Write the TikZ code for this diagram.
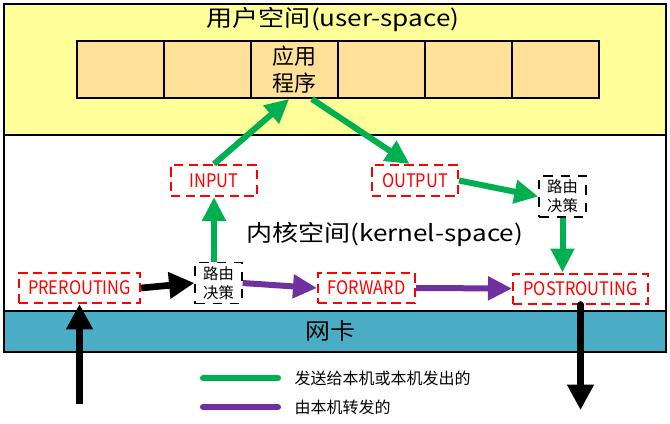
\documentclass[tikz,border=0pt]{standalone}
\usepackage{fontspec}
\usepackage{graphicx}
\setmainfont{Noto Sans CJK SC}
\usetikzlibrary{arrows.meta}
\definecolor{userbg}{RGB}{255,255,153}
\definecolor{appbg}{RGB}{255,224,153}
\definecolor{nicbg}{RGB}{75,172,198}
\definecolor{localgreen}{RGB}{0,176,80}
\definecolor{fwdpurple}{RGB}{112,48,160}
\newcommand{\hsc}[2]{\scalebox{#1}[1]{#2}}
\begin{document}
\begin{tikzpicture}[x=0.75pt,y=-0.75pt,
    hook/.style={draw=red,text=red,line width=1.5pt,dash pattern=on 7pt off 4pt,inner sep=0pt,font=\fontsize{14}{16}\selectfont},
    route/.style={draw,line width=1.2pt,dash pattern=on 7pt off 6pt,align=center,inner sep=0pt,minimum width=35pt,minimum height=31pt,font=\fontsize{11.5}{14}\selectfont},
    app/.style={draw,fill=appbg,line width=1.5pt,minimum width=65.25pt,minimum height=42.75pt,align=center,font=\fontsize{16.5}{20}\selectfont},
    local/.style={draw=localgreen,line width=4.5pt,-{Triangle[length=18pt,width=17pt]}},
    fwd/.style={draw=fwdpurple,line width=4.5pt,-{Triangle[length=18pt,width=17pt]}},
    wire/.style={draw,line width=5pt,-{Triangle[length=19pt,width=19pt]}}]
    \useasboundingbox (0,0) rectangle (670,424);
    \fill[white] (0,0) rectangle (670,424);
    % user space, kernel space, NIC
    \draw[line width=1.5pt,fill=userbg] (4,4) rectangle (666,135);
    \draw[line width=1.5pt] (4,135) rectangle (666,311);
    \draw[line width=1.5pt,fill=nicbg] (4,311) rectangle (666,352);
    \node(user) at (333,20) {\fontsize{17}{20}\selectfont\hsc{1.15}{用户空间(user-space)}};
    \node(kernel) at (384.5,235) {\fontsize{17}{20}\selectfont\hsc{1.15}{内核空间(kernel-space)}};
    \node(nic) at (330,331) {\fontsize{17}{20}\selectfont\hsc{1.1}{网卡}};
    % applications
    \node[app](app1) at (120.5,69.5) {};
    \node[app](app2) at (207.5,69.5) {};
    \node[app](app3) at (294.5,69.5) {应用\\程序};
    \node[app](app4) at (381.5,69.5) {};
    \node[app](app5) at (468.5,69.5) {};
    \node[app](app6) at (555.5,69.5) {};
    % hooks
    \node[hook,minimum width=91pt,minimum height=22.5pt](pre) at (79.5,288) {\hsc{0.88}{PREROUTING}};
    \node[route](rt1) at (218.5,283) {路由\\决策};
    \node[hook,minimum width=64.5pt,minimum height=23.25pt](input) at (214,180.5) {\hsc{0.88}{INPUT}};
    \node[hook,minimum width=64.5pt,minimum height=23.25pt](output) at (415,180.5) {\hsc{0.88}{OUTPUT}};
    \node[route](rt2) at (562.5,196.5) {路由\\决策};
    \node[hook,minimum width=72.75pt,minimum height=22.5pt](forward) at (366.5,288) {\hsc{0.88}{FORWARD}};
    \node[hook,minimum width=101.25pt,minimum height=22.5pt](post) at (580.5,288.5) {\hsc{0.88}{POSTROUTING}};
    \coordinate(nicin) at (79.5,404);
    \coordinate(nicout) at (580.5,410);
    % packet paths
    \draw[wire](nicin) -- (pre.south);
    \draw[wire](pre.east) -- (rt1.west);
    \draw[local](input.south |- rt1.north) -- (input.south);
    \draw[local](input.north) -- ([xshift=-4pt]app3.south);
    \draw[local]([xshift=13pt]app3.south) -- ([xshift=-4pt]output.north);
    \draw[local](output.east) -- (rt2.west);
    \draw[local](rt2.south) -- (rt2.south |- post.north);
    \draw[fwd](rt1.east) -- (forward.west);
    \draw[fwd](forward.east) -- (post.west);
    \draw[wire,line cap=round](post.south) -- (nicout);
    % legend
    \node[anchor=west,font=\fontsize{12}{14}\selectfont](lglocal) at (290,378) {发送给本机或本机发出的};
    \node[anchor=west,font=\fontsize{12}{14}\selectfont](lgfwd) at (290,407) {由本机转发的};
    \draw[localgreen,line width=4.5pt,line cap=round] (203,378) -- (278,378);
    \draw[fwdpurple,line width=4.5pt,line cap=round] (203,407) -- (278,407);
\end{tikzpicture}
\end{document}
